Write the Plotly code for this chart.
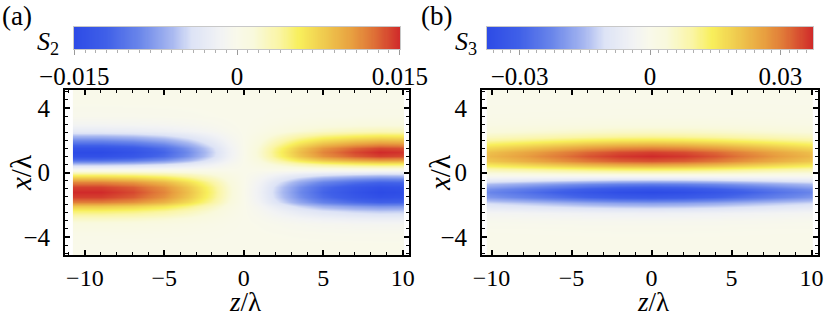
import numpy as np
import plotly.graph_objects as go

# ---------------- data ----------------
# Panel (a): S2.  Transverse profile (x/lambda) and longitudinal envelope (z/lambda)
X_A = [-5.5, -4.5, -3.8, -3.2, -2.8, -2.4, -2.1, -1.8, -1.5, -1.2, -0.9, -0.6, -0.35,
       -0.1, 0.1, 0.3, 0.5, 0.75, 1.0, 1.25, 1.5, 1.8, 2.2, 2.6, 3.0, 3.5, 4.5, 5.5]
PROFILE_A = [0.0, 0.0, -0.02, -0.07, -0.17, -0.35, -0.55, -0.8, -0.95, -1.0, -0.95, -0.78, -0.55,
             -0.3, -0.08, 0.12, 0.38, 0.72, 0.95, 1.0, 0.93, 0.75, 0.45, 0.2, 0.08, 0.02, 0.0, 0.0]
Z_A = [-10.65, -10.45, -9, -7, -5, -3.5, -2, -1, 0, 1, 2, 3.5, 5, 7, 8.5, 9.95, 10.05]
ENVELOPE_A = [-1.0, -1.0, -1.0, -0.93, -0.78, -0.58, -0.33, -0.14, 0.0, 0.14, 0.33, 0.58,
              0.78, 0.93, 1.0, 0.98, 0.98]
SCALE_A = 0.015

# Panel (b): S3
X_B = [-5.5, -4.5, -3.5, -3.0, -2.5, -2.2, -1.9, -1.5, -1.2, -1.0, -0.7, -0.4, -0.2, 0.0,
       0.2, 0.4, 0.7, 1.0, 1.3, 1.6, 2.0, 2.2, 2.5, 3.0, 3.5, 4.5, 5.5]
PROFILE_B = [0.0, 0.0, -0.01, -0.04, -0.13, -0.3, -0.5, -0.88, -1.0, -0.92, -0.65, -0.25, -0.05,
             0.15, 0.38, 0.6, 0.9, 1.0, 0.95, 0.75, 0.42, 0.3, 0.17, 0.06, 0.02, 0.0, 0.0]
Z_B = [-10.2, -10.0, -8, -6, -4, -2, 0, 2, 4, 6, 8, 9.95, 10.05]
ENVELOPE_B = [0.6, 0.61, 0.7, 0.8, 0.9, 0.97, 1.0, 0.97, 0.9, 0.8, 0.7, 0.61, 0.6]
SCALE_B = 0.0375

# axis / colorbar ticks
XTICKS = [-10, -5, 0, 5, 10]
YTICKS = [-4, 0, 4]
CB_A_TICKS = [-0.015, 0, 0.015]
CB_A_TEXT = ["\u22120.015", "0", "0.015"]
CB_B_TICKS = [-0.03, 0, 0.03]
CB_B_TEXT = ["\u22120.03", "0", "0.03"]

S2 = np.outer(PROFILE_A, ENVELOPE_A) * SCALE_A
S3 = np.outer(PROFILE_B, ENVELOPE_B) * SCALE_B

COLORSCALE = [
    [0.0, "#2d4be6"], [0.1, "#4060e8"], [0.2, "#6a86ea"], [0.3, "#a8b8f0"],
    [0.36, "#dde3f6"], [0.45, "#f2f3f4"], [0.5, "#f9f9ea"], [0.55, "#f9f9dc"],
    [0.63, "#faf5a4"], [0.69, "#f8ef5c"], [0.78, "#eec44c"], [0.85, "#e8a040"],
    [0.91, "#e07838"], [1.0, "#d02a2a"],
]

W, H = 830, 318
def px_x(a, b):
    return [a / W, b / W]
def px_y(top, bottom):
    return [1 - bottom / H, 1 - top / H]

FONT = "Liberation Serif, Times New Roman, serif"
fig = go.Figure()

fig.add_trace(go.Heatmap(x=Z_A, y=X_A, z=S2, colorscale=COLORSCALE, zmin=-SCALE_A, zmax=SCALE_A,
                         zsmooth="best", showscale=False, xaxis="x", yaxis="y"))
fig.add_trace(go.Heatmap(x=Z_B, y=X_B, z=S3, colorscale=COLORSCALE, zmin=-SCALE_B, zmax=SCALE_B,
                         zsmooth="best", showscale=False, xaxis="x2", yaxis="y2"))

# colour bars drawn as their own small axes
cb_a = np.linspace(-SCALE_A, SCALE_A, 301)
cb_b = np.linspace(-SCALE_B, SCALE_B, 301)
fig.add_trace(go.Heatmap(x=cb_a, y=[0], z=[cb_a], colorscale=COLORSCALE, zmin=-SCALE_A, zmax=SCALE_A,
                         showscale=False, xaxis="x3", yaxis="y3", hoverinfo="skip"))
fig.add_trace(go.Heatmap(x=cb_b, y=[0], z=[cb_b], colorscale=COLORSCALE, zmin=-SCALE_B, zmax=SCALE_B,
                         showscale=False, xaxis="x4", yaxis="y4", hoverinfo="skip"))

TICKSIZE = 25

def main_x(domain, rng, anchor):
    return dict(domain=domain, range=rng, anchor=anchor, tickmode="array", tickvals=XTICKS,
                ticks="inside", ticklen=5, tickwidth=1.5, tickcolor="black",
                showline=True, linewidth=2, linecolor="black", mirror="allticks",
                showgrid=False, zeroline=False, ticklabelstandoff=0, automargin=False,
                tickfont=dict(family=FONT, size=24, color="black"),
                minor=dict(dtick=1, tick0=0, ticks="inside", ticklen=3, tickwidth=1,
                           tickcolor="black", showgrid=False))

def main_y(domain, anchor):
    return dict(domain=domain, range=[-5.12, 5.12], anchor=anchor, tickmode="array",
                tickvals=YTICKS, ticktext=["\u22124", "0", "4"],
                ticks="inside", ticklen=5, tickwidth=1.5, tickcolor="black",
                showline=True, linewidth=2, linecolor="black", mirror="allticks",
                showgrid=False, zeroline=False, ticklabelstandoff=8, automargin=False,
                tickfont=dict(family=FONT, size=TICKSIZE, color="black"),
                minor=dict(dtick=0.5, tick0=0, ticks="inside", ticklen=3, tickwidth=1,
                           tickcolor="black", showgrid=False))

def cb_x(domain, rng, anchor, tv, tt, minor_dtick):
    return dict(domain=domain, range=rng, anchor=anchor, tickmode="array", tickvals=tv, ticktext=tt,
                ticks="outside", ticklen=5, tickwidth=1, tickcolor="#9a9a9a",
                showline=True, linewidth=1, linecolor="#c8c8c8", mirror=True,
                showgrid=False, zeroline=False, ticklabelstandoff=0, automargin=False,
                tickfont=dict(family=FONT, size=TICKSIZE, color="black"),
                minor=dict(dtick=minor_dtick, tick0=0, ticks="outside", ticklen=3, tickwidth=1,
                           tickcolor="#b0b0b0", showgrid=False))

def cb_y(domain, anchor):
    return dict(domain=domain, range=[-0.5, 0.5], anchor=anchor, showticklabels=False, ticks="",
                showline=True, linewidth=1, linecolor="#c8c8c8", mirror=True,
                showgrid=False, zeroline=False, automargin=False)

fig.update_layout(
    width=W, height=H, margin=dict(l=0, r=0, t=0, b=0, pad=0, autoexpand=False),
    paper_bgcolor="white", plot_bgcolor="white", showlegend=False,
    xaxis=main_x(px_x(65, 409), [-11.25, 10.4], "y"),
    yaxis=main_y(px_y(90, 255), "x"),
    xaxis2=main_x(px_x(482, 818), [-10.6, 10.4], "y2"),
    yaxis2=main_y(px_y(90, 255), "x2"),
    xaxis3=cb_x(px_x(74, 400), [-0.01502, 0.01502], "y3", CB_A_TICKS, CB_A_TEXT, 0.001),
    yaxis3=cb_y(px_y(27, 49), "x3"),
    xaxis4=cb_x(px_x(487, 813), [-0.0375, 0.0375], "y4", CB_B_TICKS, CB_B_TEXT, 0.002),
    yaxis4=cb_y(px_y(27, 49), "x4"),
)

def ann(text, x, y, size=26, angle=0, xanchor="center"):
    fig.add_annotation(text=text, x=x / W, y=1 - y / H, xref="paper", yref="paper",
                       showarrow=False, textangle=angle, xanchor=xanchor, yanchor="middle",
                       font=dict(family=FONT, size=size, color="black"))

ann("(a)", 0, 16, 27, xanchor="left")
ann("(b)", 419, 16, 27, xanchor="left")
ann("<i>S</i><sub>2</sub>", 48, 43, 26)
ann("<i>S</i><sub>3</sub>", 466, 43, 26)
ann("<i>x</i>/λ", 21, 173, 29, angle=-90)
ann("<i>x</i>/λ", 440, 173, 29, angle=-90)
ann("<i>z</i>/λ", 245, 302, 27)
ann("<i>z</i>/λ", 653, 302, 27)

# remove the default 8px body margin so the figure starts at the window's corner
fig.write_html("out.html", config={"displayModeBar": False},
               post_script="document.body.style.margin='0';")
